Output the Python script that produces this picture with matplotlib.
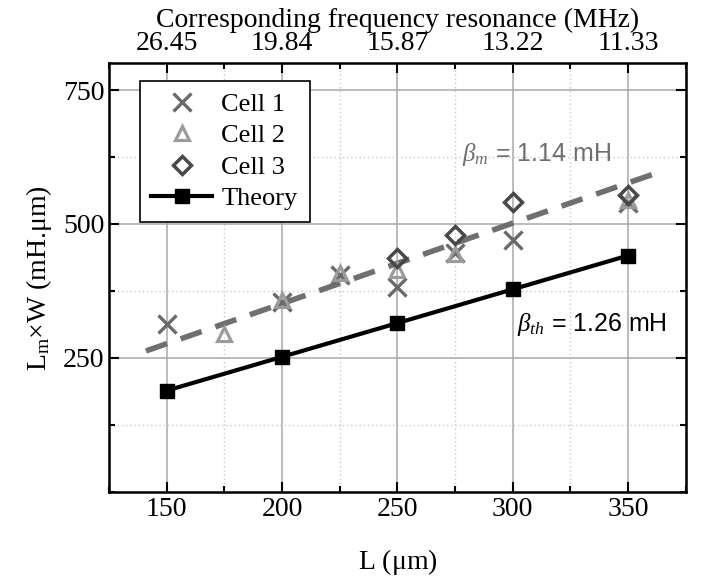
import numpy as np
import matplotlib
matplotlib.use("Agg")
import matplotlib.pyplot as plt
from matplotlib.ticker import MultipleLocator

plt.rcParams['font.family'] = ['Liberation Serif', 'DejaVu Serif']
plt.rcParams['mathtext.fontset'] = 'custom'
plt.rcParams['mathtext.rm'] = 'Liberation Serif'
plt.rcParams['mathtext.it'] = 'Liberation Serif:italic'

# data
L_th = [150, 200, 250, 300, 350]
val_th = [189, 252, 315, 378, 441]

L_c1 = [150, 200, 225, 250, 275, 300, 350]
val_c1 = [313, 355, 405, 383, 445, 470, 540]

L_c2 = [175, 200, 225, 250, 275, 350]
val_c2 = [295, 358, 408, 414, 443, 545]

L_c3 = [250, 275, 300, 350]
val_c3 = [437, 479, 541, 554]

L_fit = [141, 361]
val_fit = [263, 593]

top_ticks = [150, 200, 250, 300, 350]
freq_labels = ["26.45", "19.84", "15.87", "13.22", "11.33"]

fig = plt.figure(figsize=(7.04, 5.8), dpi=100)
ax = fig.add_axes([0.155, 0.152, 0.819, 0.739])

ax.plot(L_fit, val_fit, color="#6f6f6f", lw=4, dashes=(4, 2.6), zorder=3)
ax.plot(L_c1, val_c1, "x", color="#6a6a6a", ms=13, mew=2.4, ls="none", label="Cell 1", zorder=4)
ax.plot(L_c2, val_c2, "^", color="#9b9b9b", mfc="none", ms=10, mew=2.3, ls="none", label="Cell 2", zorder=4)
ax.plot(L_c3, val_c3, "D", color="#484848", mfc="none", ms=9, mew=2.5, ls="none", label="Cell 3", zorder=5)
ax.plot(L_th, val_th, "-s", color="black", lw=3, ms=10, label="Theory", zorder=6)

ax.set_xlim(125, 375)
ax.set_ylim(0, 800)
ax.xaxis.set_major_locator(MultipleLocator(50))
ax.xaxis.set_minor_locator(MultipleLocator(25))
ax.set_yticks([250, 500, 750])
ax.yaxis.set_minor_locator(MultipleLocator(125))
ax.grid(which="major", color="#a8a8a8", lw=1.1)
ax.grid(which="minor", color="#c8c8c8", lw=1, ls=(0, (1, 2)))
ax.set_axisbelow(True)

ax.tick_params(which="both", direction="in", right=True, top=True, labelsize=20, width=1.5)
ax.tick_params(which="major", length=7)
ax.tick_params(which="minor", length=4)
for s in ax.spines.values():
    s.set_linewidth(1.8)

ax.set_xlabel(r"L ($\mathrm{\mu}$m)", fontsize=20, labelpad=18)
ax.set_ylabel(r"L$_\mathrm{m}$$\times$W (mH.$\mathrm{\mu}$m)", fontsize=20, labelpad=6)

ax2 = ax.twiny()
ax2.set_xlim(ax.get_xlim())
ax2.set_xticks(top_ticks)
ax2.set_xticklabels(freq_labels)
ax2.xaxis.set_minor_locator(MultipleLocator(25))
ax2.tick_params(which="both", direction="in", labelsize=20, width=1.5)
ax2.tick_params(which="major", length=7, pad=5)
ax2.tick_params(which="minor", length=4)
ax2.set_xlabel("Corresponding frequency resonance (MHz)", fontsize=20, labelpad=3)

leg = ax.legend(loc="upper left", bbox_to_anchor=(0.03, 0.99), fontsize=19,
                frameon=True, fancybox=False, edgecolor="black", framealpha=1,
                handlelength=2.3, labelspacing=0.3, borderpad=0.45, handletextpad=0.35)
leg.get_frame().set_linewidth(1.2)

ax.text(278, 629, r"$\beta_m$ = 1.14 mH", color="#6f6f6f", fontsize=18,
        family="Liberation Sans", va="center", ha="left")
ax.text(302, 312, r"$\beta_{th}$ = 1.26 mH", color="black", fontsize=18,
        family="Liberation Sans", va="center", ha="left")

fig.savefig("out.png", dpi=100)
